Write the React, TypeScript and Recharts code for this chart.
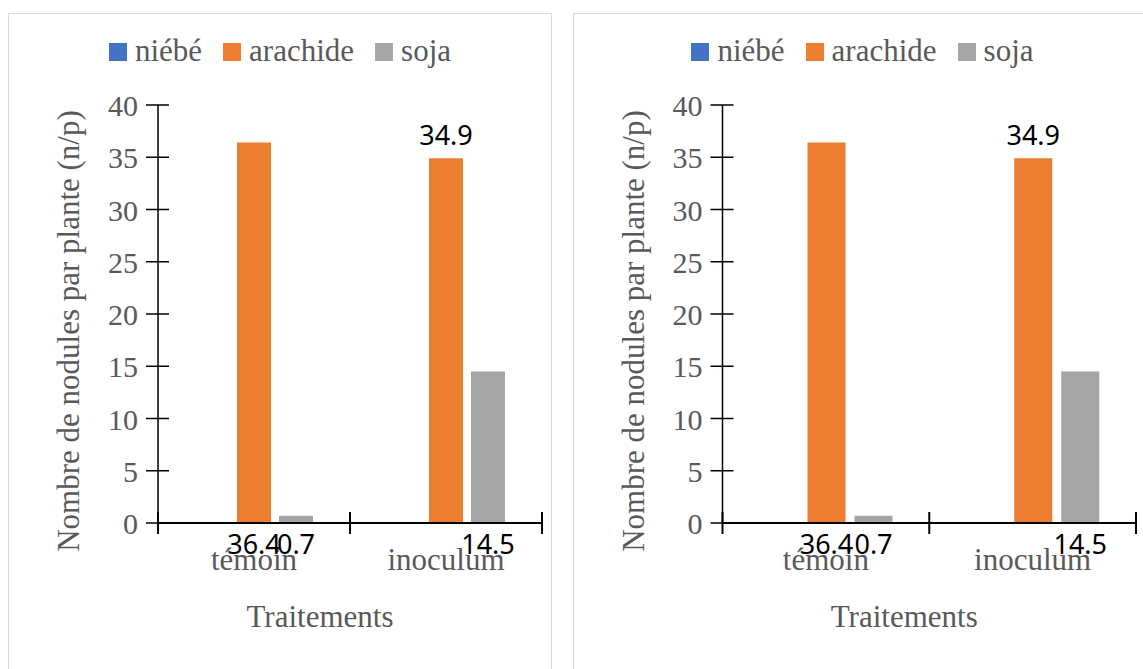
import { BarChart, Bar, XAxis, YAxis, Legend, LabelList } from 'recharts'

const categories = ['témoin', 'inoculum']
const niebe: (number | null)[] = [null, null]
const arachide = [36.4, 34.9]
const soja = [0.7, 14.5]
const yTicks = [0, 5, 10, 15, 20, 25, 30, 35, 40]

const series = [
  { key: 'niebe', name: 'niébé', color: '#4472C4' },
  { key: 'arachide', name: 'arachide', color: '#ED7D31' },
  { key: 'soja', name: 'soja', color: '#A5A5A5' },
]

// value labels that are drawn under the axis rather than above their bar
const labelUnderAxis: Record<string, boolean[]> = {
  niebe: [false, false],
  arachide: [true, false],
  soja: [true, true],
}

const data = categories.map((name, i) => ({
  name,
  niebe: niebe[i],
  arachide: arachide[i],
  soja: soja[i],
}))

const SERIF = '"Liberation Serif", "Times New Roman", serif'
const TEXT = '#595959'

const HEIGHT = 640
const MARGIN_TOP = 91
const MARGIN_BOTTOM = 31
const X_AXIS_HEIGHT = 100

function LegendRow() {
  return (
    <div
      style={{
        display: 'flex',
        justifyContent: 'center',
        alignItems: 'baseline',
        fontFamily: SERIF,
        fontSize: 31,
        lineHeight: '31px',
        color: TEXT,
        whiteSpace: 'nowrap',
        margin: 0,
        padding: 0,
      }}
    >
      {series.map((s, i) => (
        <span key={s.key} style={{ marginLeft: i ? 21 : 0 }}>
          <span
            style={{
              display: 'inline-block',
              width: 18,
              height: 18,
              background: s.color,
              marginRight: 8,
            }}
          />
          {s.name}
        </span>
      ))}
    </div>
  )
}

const YTick = (props: any) => {
  const { x, y, payload } = props
  return (
    <g>
      <line x1={x - 12} x2={x + 11} y1={y} y2={y} stroke="#000" strokeWidth={1.5} />
      <text x={x - 20} y={y} dy={11} textAnchor="end" fill={TEXT} fontSize={30} fontFamily={SERIF}>
        {payload.value}
      </text>
    </g>
  )
}

const makeXTick = (half: number) => (props: any) => {
  const { x, y, payload, index } = props
  const last = index === categories.length - 1
  return (
    <g>
      <line x1={x - half} x2={x - half} y1={y - 11} y2={y + 11} stroke="#000" strokeWidth={2} />
      {last && <line x1={x + half} x2={x + half} y1={y - 11} y2={y + 11} stroke="#000" strokeWidth={2} />}
      <text x={x} y={y + 47} textAnchor="middle" fill={TEXT} fontSize={31} fontFamily={SERIF}>
        {payload.value}
      </text>
    </g>
  )
}

const makeValueLabel = (key: string) => (props: any) => {
  const { value, index } = props
  if (value == null) return null
  const x = Number(props.x)
  const y = Number(props.y)
  const w = Number(props.width)
  const h = Number(props.height)
  const under = labelUnderAxis[key]?.[index]
  return (
    <text
      x={x + w / 2}
      y={under ? y + h + 31 : y - 13}
      textAnchor="middle"
      fill="#000"
      fontSize={27}
      fontFamily='"Noto Sans", sans-serif'
    >
      {value}
    </text>
  )
}

const YTitle = () => (
  <text
    transform="translate(70 317) rotate(-90)"
    textAnchor="middle"
    fill={TEXT}
    fontSize={31}
    fontFamily={SERIF}
  >
    Nombre de nodules par plante (n/p)
  </text>
)

const XTitle = ({ cx }: { cx: number }) => (
  <text x={cx} y={613} textAnchor="middle" fill={TEXT} fontSize={31} fontFamily={SERIF}>
    Traitements
  </text>
)

interface NodulePanelProps {
  width: number
  yAxisWidth: number
  marginRight: number
  catGap: number
  barGap: number
  titleShift: number
}

function NoduleChart({ width, yAxisWidth, marginRight, catGap, barGap, titleShift }: NodulePanelProps) {
  const plotWidth = width - yAxisWidth - marginRight
  const half = plotWidth / categories.length / 2
  const XTick = makeXTick(half)
  return (
    <BarChart
      width={width}
      height={HEIGHT}
      data={data}
      margin={{ top: MARGIN_TOP, right: marginRight, bottom: MARGIN_BOTTOM, left: 0 }}
      barCategoryGap={catGap}
      barGap={barGap}
    >
      <XAxis
        dataKey="name"
        height={X_AXIS_HEIGHT}
        axisLine={{ stroke: '#000', strokeWidth: 2 }}
        tickLine={false}
        tickSize={0}
        tickMargin={0}
        tick={XTick}
        interval={0}
        label={<XTitle cx={yAxisWidth + plotWidth / 2 + titleShift} />}
      />
      <YAxis
        width={yAxisWidth}
        domain={[0, 40]}
        ticks={yTicks}
        interval={0}
        axisLine={{ stroke: '#000', strokeWidth: 1.5 }}
        tickLine={false}
        tickSize={0}
        tickMargin={0}
        tick={YTick}
        label={<YTitle />}
      />
      <Legend
        layout="vertical"
        verticalAlign="middle"
        align="center"
        wrapperStyle={{ top: 21, left: 0, width, lineHeight: '31px' }}
        content={() => <LegendRow />}
      />
      {series.map((s) => (
        <Bar key={s.key} dataKey={s.key} name={s.name} fill={s.color} isAnimationActive={false}>
          <LabelList dataKey={s.key} content={makeValueLabel(s.key)} />
        </Bar>
      ))}
    </BarChart>
  )
}

const panelStyle = {
  position: 'absolute' as const,
  top: 13,
  height: 700,
  border: '1px solid #d9d9d9',
  boxSizing: 'border-box' as const,
  overflow: 'hidden',
  background: '#fff',
}

export default function App() {
  return (
    <div style={{ position: 'fixed', inset: 0, overflow: 'hidden', background: '#fff' }}>
      <div style={{ ...panelStyle, left: 8, width: 544 }}>
        <NoduleChart width={542} yAxisWidth={149} marginRight={9} catGap={37} barGap={8} titleShift={-30} />
      </div>
      <div style={{ ...panelStyle, left: 573, width: 579 }}>
        <NoduleChart width={577} yAxisWidth={148.5} marginRight={15} catGap={38} barGap={9} titleShift={-25} />
      </div>
    </div>
  )
}
